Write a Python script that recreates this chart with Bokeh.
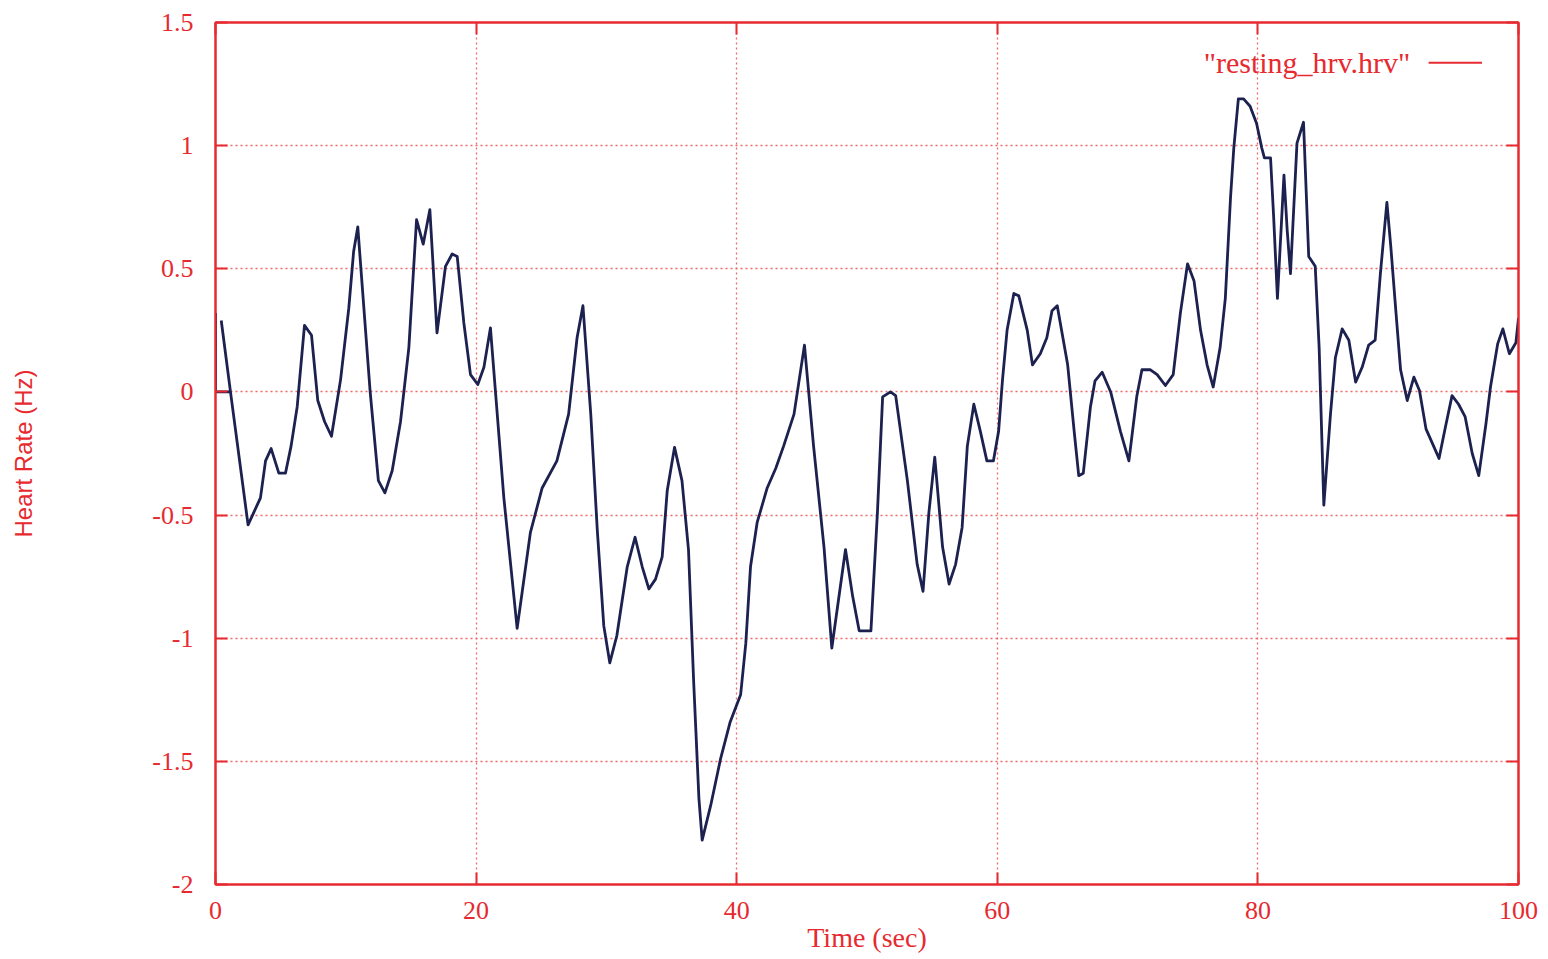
from bokeh.plotting import figure
from bokeh.models import LinearAxis, FixedTicker, Label, Range1d
from bokeh.embed import file_html
from bokeh.resources import INLINE

# ---- data ----
time_sec = [0.44, 1.15, 2.5, 3.45, 3.84, 4.27, 4.86, 5.37, 5.8, 6.27, 6.83, 7.37, 7.85, 8.37, 8.9,
            9.6, 10.23, 10.6, 10.92, 11.87, 12.5, 13.0, 13.56, 14.2, 14.84, 15.43, 15.94, 16.45,
            17.0, 17.65, 18.16, 18.55, 19.06, 19.57, 20.13, 20.6, 21.1, 22.13, 23.15, 24.17,
            25.07, 26.2, 27.1, 27.75, 28.2, 28.8, 29.3, 29.8, 30.26, 30.8, 31.6, 32.2, 32.75,
            33.26, 33.77, 34.28, 34.67, 35.23, 35.8, 36.3, 36.7, 37.1, 37.35, 38.0, 38.76, 39.5,
            40.3, 40.7, 41.06, 41.57, 42.34, 43.0, 43.6, 44.4, 45.2, 45.9, 46.7, 47.3, 48.35,
            48.9, 49.4, 50.3, 50.8, 51.2, 51.8, 52.2, 53.1, 53.85, 54.3, 54.75, 55.2, 55.8,
            56.3, 56.8, 57.3, 57.7, 58.2, 58.7, 59.2, 59.7, 60.1, 60.4, 60.75, 61.27, 61.65,
            62.3, 62.7, 63.3, 63.8, 64.2, 64.6, 65.4, 65.9, 66.25, 66.6, 67.15, 67.5, 68.05,
            68.7, 69.45, 70.1, 70.7, 71.1, 71.75, 72.27, 72.9, 73.5, 74.05, 74.6, 75.1, 75.6,
            76.1, 76.57, 77.1, 77.5, 77.9, 78.15, 78.5, 78.9, 79.4, 79.9, 80.3, 80.5, 80.97,
            81.2, 81.5, 82.0, 82.25, 82.5, 83.0, 83.5, 83.9, 84.4, 84.7, 85.06, 85.57, 85.95,
            86.47, 86.98, 87.5, 88.0, 88.5, 89.0, 89.4, 89.9, 90.2, 90.6, 90.95, 91.46, 91.97,
            92.4, 92.9, 93.4, 93.9, 94.4, 94.9, 95.4, 95.9, 96.45, 96.95, 97.5, 97.85, 98.4,
            98.8, 99.3, 99.8, 100.0]
heart_rate = [0.29, 0.0, -0.54, -0.43, -0.28, -0.23, -0.33, -0.33, -0.22, -0.06, 0.27, 0.23, -0.035,
              -0.12, -0.18, 0.05, 0.34, 0.57, 0.67, 0.0, -0.36, -0.41, -0.32, -0.12, 0.18, 0.70,
              0.60, 0.74, 0.24, 0.51, 0.56, 0.55, 0.28, 0.07, 0.03, 0.10, 0.26, -0.43, -0.96,
              -0.57, -0.39, -0.28, -0.09, 0.22, 0.35, -0.09, -0.56, -0.95, -1.10, -0.99, -0.71,
              -0.59, -0.71, -0.80, -0.76, -0.67, -0.40, -0.225, -0.36, -0.64, -1.18, -1.65, -1.82,
              -1.68, -1.49, -1.34, -1.23, -1.02, -0.71, -0.53, -0.39, -0.31, -0.22, -0.09, 0.19,
              -0.22, -0.63, -1.04, -0.64, -0.83, -0.97, -0.97, -0.49, -0.02, 0.0, -0.015, -0.36,
              -0.70, -0.81, -0.49, -0.265, -0.63, -0.78, -0.70, -0.55, -0.22, -0.05, -0.16, -0.28,
              -0.28, -0.16, 0.05, 0.25, 0.40, 0.39, 0.25, 0.11, 0.155, 0.22, 0.33, 0.35, 0.11,
              -0.16, -0.34, -0.33, -0.06, 0.045, 0.08, 0.0, -0.16, -0.28, -0.02, 0.09, 0.09, 0.07,
              0.026, 0.07, 0.32, 0.52, 0.45, 0.25, 0.11, 0.02, 0.18, 0.38, 0.79, 0.99, 1.19, 1.19,
              1.16, 1.09, 0.99, 0.95, 0.95, 0.72, 0.38, 0.88, 0.655, 0.48, 1.01, 1.095, 0.55, 0.51,
              0.18, -0.46, -0.09, 0.14, 0.256, 0.21, 0.04, 0.10, 0.19, 0.21, 0.48, 0.77, 0.59, 0.32,
              0.09, -0.035, 0.06, 0.006, -0.15, -0.21, -0.27, -0.14, -0.015, -0.05, -0.10, -0.25,
              -0.34, -0.13, 0.02, 0.195, 0.256, 0.155, 0.20, 0.30]
start_time = [1.1, 0.0, 0.0]
start_rate = [0.0, 0.0, 0.32]

x_ticks = [0, 20, 40, 60, 80, 100]
x_tick_labels = ["0", "20", "40", "60", "80", "100"]
y_ticks = [-2, -1.5, -1, -0.5, 0, 0.5, 1, 1.5]
y_tick_labels = ["-2", "-1.5", "-1", "-0.5", "0", "0.5", "1", "1.5"]

series_name = '"resting_hrv.hrv"'
x_title = "Time (sec)"
y_title = "Heart Rate (Hz)"

# legend placement (data units)
legend_text_x, legend_y = 91.7, 1.337
legend_line_x = [93.1, 97.2]

RED = "#e62a30"
GRID = "#ee6a6a"
LINE = "#1c2150"
FONT = "Liberation Serif"

p = figure(width=1545, height=957, x_range=Range1d(0, 100), y_range=Range1d(-2, 1.5),
           output_backend="svg", toolbar_location=None,
           min_border_left=215, min_border_right=27, min_border_top=22, min_border_bottom=73)

p.background_fill_color = "white"
p.border_fill_color = "white"
p.outline_line_color = RED
p.outline_line_width = 2

xt = FixedTicker(ticks=x_ticks)
yt = FixedTicker(ticks=y_ticks)

for ax in (p.xaxis[0], p.yaxis[0]):
    ax.axis_line_color = RED
    ax.axis_line_width = 2
    ax.major_tick_line_color = RED
    ax.major_tick_line_width = 2
    ax.major_tick_in = 12
    ax.major_tick_out = 0
    ax.minor_tick_line_color = None
    ax.major_label_text_color = RED
    ax.major_label_text_font = FONT
    ax.major_label_text_font_size = "26px"
    ax.axis_label_text_color = RED
    ax.axis_label_text_font = FONT
    ax.axis_label_text_font_style = "normal"
    ax.axis_label_text_font_size = "28px"

p.xaxis[0].ticker = xt
p.xaxis[0].major_label_overrides = dict(zip(x_ticks, x_tick_labels))
p.xaxis[0].major_label_standoff = 17
p.xaxis[0].axis_label = x_title
p.xaxis[0].axis_label_standoff = 0

p.yaxis[0].ticker = yt
p.yaxis[0].major_label_overrides = dict(zip(y_ticks, y_tick_labels))
p.yaxis[0].major_label_standoff = 22
p.yaxis[0].axis_label = y_title
p.yaxis[0].axis_label_standoff = 112
p.yaxis[0].axis_label_text_font = "Liberation Sans"
p.yaxis[0].axis_label_text_font_size = "24px"

right = LinearAxis(ticker=yt)
top = LinearAxis(ticker=xt)
for ax in (right, top):
    ax.axis_line_color = RED
    ax.axis_line_width = 2
    ax.major_tick_line_color = RED
    ax.major_tick_line_width = 2
    ax.major_tick_in = 12
    ax.major_tick_out = 0
    ax.minor_tick_line_color = None
    ax.major_label_text_color = None
    ax.major_label_text_font_size = "1px"
    ax.major_label_standoff = 0
p.add_layout(right, "right")
p.add_layout(top, "above")

p.xgrid.ticker = xt
p.ygrid.ticker = yt
for g in (p.xgrid[0], p.ygrid[0]):
    g.grid_line_color = GRID
    g.grid_line_dash = "2 3"
    g.grid_line_width = 1.3

p.line(start_time, start_rate, line_color=LINE, line_width=2.8)
p.line(time_sec, heart_rate, line_color=LINE, line_width=2.8, line_join="round")

p.add_layout(Label(x=legend_text_x, y=legend_y, text=series_name, text_align="right",
                   text_baseline="middle", text_color=RED, text_font=FONT,
                   text_font_size="30px"))
p.line(legend_line_x, [legend_y, legend_y], line_color=RED, line_width=2)

open("out.html", "w").write(file_html(p, INLINE))
